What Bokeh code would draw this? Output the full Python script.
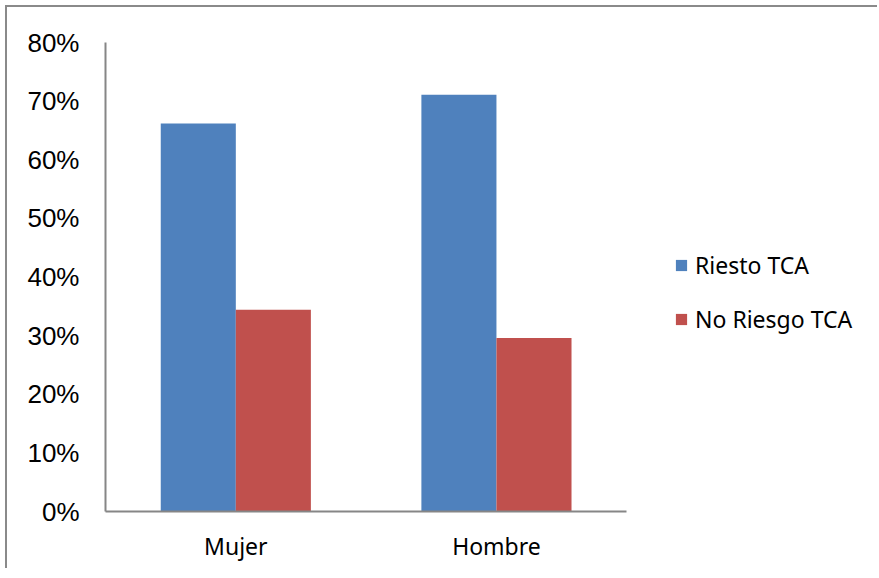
from bokeh.plotting import figure
from bokeh.models import ColumnDataSource, Legend, LegendItem, NumeralTickFormatter, FixedTicker, Range1d
from bokeh.embed import file_html
from bokeh.resources import INLINE

categories = ["Mujer", "Hombre"]
riesgo = [0.662, 0.711]
no_riesgo = [0.344, 0.296]
series_names = ["Riesto TCA", "No Riesgo TCA"]
y_ticks = [0, 0.1, 0.2, 0.3, 0.4, 0.5, 0.6, 0.7, 0.8]

xc = [i + 0.5 for i in range(len(categories))]
bw = 0.288
src = ColumnDataSource(dict(x1=[x - bw / 2 for x in xc], x2=[x + bw / 2 for x in xc],
                            r=riesgo, n=no_riesgo))

p = figure(x_range=Range1d(0, 2.962), y_range=Range1d(0, 0.8), width=872, height=563,
           output_backend="svg", toolbar_location=None,
           min_border_left=98, min_border_right=2, min_border_top=35, min_border_bottom=59)
p.margin = (5, 0, 0, 5)
p.outline_line_color = None
p.background_fill_color = "white"
p.border_fill_color = "white"
p.styles = {"border-top": "2px solid #8a8a8a", "border-left": "2px solid #8a8a8a"}

r1 = p.vbar(x="x1", top="r", width=bw, source=src, fill_color="#4F81BD", line_color=None)
r2 = p.vbar(x="x2", top="n", width=bw, source=src, fill_color="#C0504D", line_color=None)

p.xgrid.grid_line_color = None
p.ygrid.grid_line_color = None

p.yaxis.ticker = FixedTicker(ticks=y_ticks)
p.yaxis.formatter = NumeralTickFormatter(format="0%")
p.yaxis.major_label_text_font = "Liberation Sans"
p.yaxis.major_label_text_font_size = "26px"
p.yaxis.major_label_text_color = "black"
p.yaxis.major_label_standoff = 26
p.xaxis.ticker = FixedTicker(ticks=xc)
p.xaxis.major_label_overrides = {x: c for x, c in zip(xc, categories)}
p.xaxis.bounds = (0, len(categories))
for ax in (p.xaxis, p.yaxis):
    ax.axis_line_color = "#868686"
    ax.axis_line_width = 2
    ax.major_tick_line_color = None
    ax.minor_tick_line_color = None
    ax.major_tick_out = 0
    ax.major_tick_in = 0
p.xaxis.major_label_text_font = "Noto Sans"
p.xaxis.major_label_text_font_size = "23px"
p.xaxis.major_label_text_color = "black"
p.xaxis.major_label_standoff = 18

legend = Legend(items=[LegendItem(label=series_names[0], renderers=[r1]),
                       LegendItem(label=series_names[1], renderers=[r2])],
                location=(569, 176), orientation="vertical")
legend.label_text_font = "Noto Sans"
legend.label_text_font_size = "23px"
legend.label_text_color = "black"
legend.glyph_width = 14
legend.glyph_height = 14
legend.spacing = 22
legend.padding = 0
legend.margin = 0
legend.label_standoff = 7
legend.border_line_color = None
legend.background_fill_alpha = 0
p.add_layout(legend)

open("out.html", "w").write(file_html(p, INLINE))
